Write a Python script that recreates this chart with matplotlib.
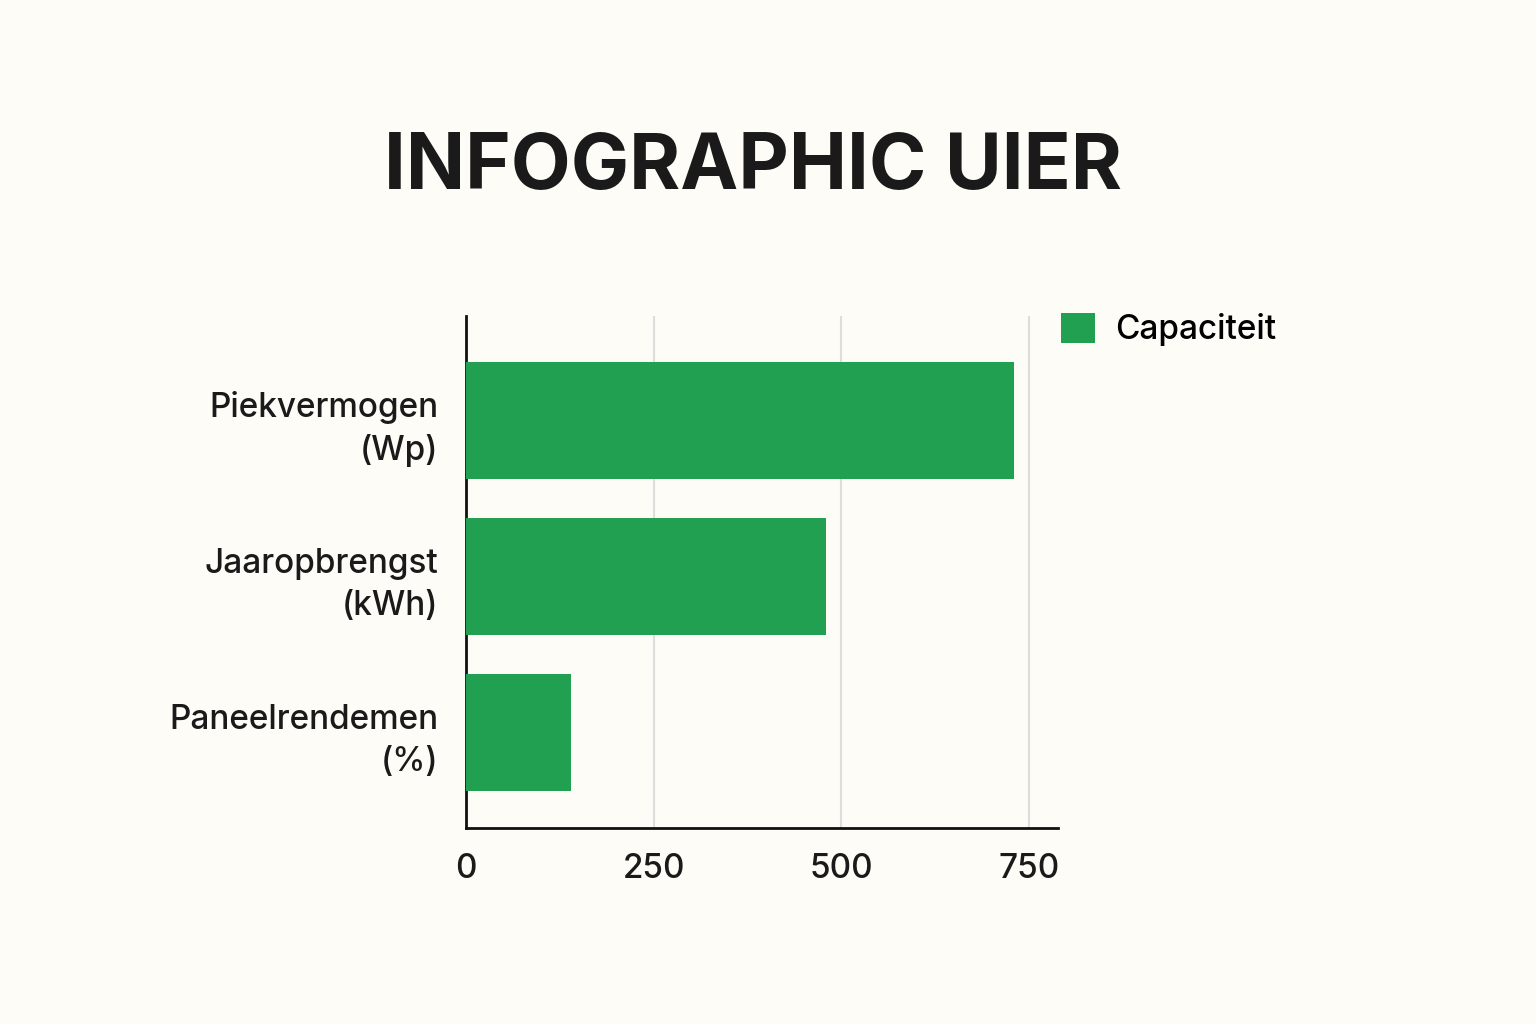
import matplotlib
matplotlib.use("Agg")
import matplotlib.pyplot as plt

categories = ["Piekvermogen\n(Wp)", "Jaaropbrengst\n(kWh)", "Paneelrendemen\n(%)"]
values = [730, 480, 140]
series_name = "Capaciteit"
xticks = [0, 250, 500, 750]

bg = "#FDFCF7"
green = "#22A052"
W, H = 1536, 1024
fig = plt.figure(figsize=(W/100, H/100), dpi=100, facecolor=bg)
ax = fig.add_axes([466/W, 1-828/H, (1058-466)/W, (828-316)/H], facecolor=bg)

pos = list(range(len(categories)))
bars = ax.barh(pos, values, height=0.75, color=green, zorder=3)
ax.set_ylim(2.615, -0.667)
ax.set_xlim(0, 789)
ax.set_yticks(pos)
ax.set_yticklabels(categories, fontsize=24, family="Inter", fontweight="medium",
                   ha="right", color="#1a1a1a", linespacing=1.4)
ax.set_xticks(xticks)
ax.set_xticklabels([str(t) for t in xticks], fontsize=24, family="Inter",
                   fontweight="medium", color="#1a1a1a")
ax.tick_params(length=0, pad=18)
ax.tick_params(axis="y", pad=20)
for s in ["top", "right"]:
    ax.spines[s].set_visible(False)
for s in ["left", "bottom"]:
    ax.spines[s].set_linewidth(2)
    ax.spines[s].set_color("#111111")
for t in xticks[1:]:
    ax.axvline(t, color="#dddddd", lw=1.5, zorder=1)

ax.legend([bars], [series_name], loc="upper left", bbox_to_anchor=(0.955, 1.065),
          frameon=False, prop={"family": "Inter", "size": 24, "weight": "medium"},
          handlelength=1.0, handleheight=1.0, handletextpad=0.6)

fig.text(0.49, 1-168/H, "INFOGRAPHIC UIER", ha="center", va="center",
         fontsize=56, fontweight="bold", family="Inter", color="#1a1a1a")

fig.savefig("out.png", dpi=100, facecolor=bg)
